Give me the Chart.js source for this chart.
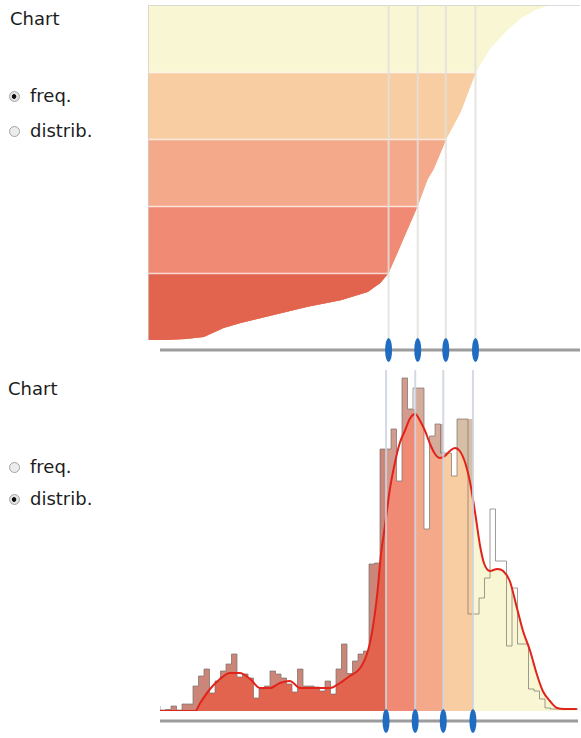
<!DOCTYPE html>
<html>
<head>
<meta charset="utf-8">
<script src="https://cdn.jsdelivr.net/npm/chart.js@4.4.1/dist/chart.umd.min.js"></script>
<style>
  html, body { margin: 0; padding: 0; background: #fff; }
  body { width: 581px; height: 738px; position: relative; overflow: hidden;
         font-family: "DejaVu Sans", sans-serif; color: #1c1c1c; }
  canvas { position: absolute; left: 0; }
  #topChart { top: 0; }
  #bottomChart { top: 370px; }
  .lbl { position: absolute; font-size: 18px; line-height: 18px; white-space: nowrap; }
  .opt { position: absolute; left: 9px; font-size: 18px; line-height: 18px;
         display: flex; align-items: center; white-space: nowrap; }
  .opt input { appearance: none; -webkit-appearance: none; width: 11px; height: 11px;
               margin: 0 10px 0 0; border-radius: 50%; border: 1px solid #a4a4a4;
               background: #ececec; }
  .opt input:checked { background: radial-gradient(circle at 45% 50%, #111 0 2px, #e2e2e2 2.6px); }
</style>
</head>
<body>
<div class="lbl" style="left:10px; top:10px">Chart</div>
<label class="opt" style="top:87px"><input type="radio" name="v1" checked>freq.</label>
<label class="opt" style="top:122px"><input type="radio" name="v1">distrib.</label>

<div class="lbl" style="left:8px; top:380px">Chart</div>
<label class="opt" style="top:458px"><input type="radio" name="v2">freq.</label>
<label class="opt" style="top:490px"><input type="radio" name="v2" checked>distrib.</label>

<canvas id="topChart" width="581" height="370"></canvas>
<canvas id="bottomChart" width="581" height="368"></canvas>

<script>
// histogram, one count per bin (bin k covers [k, k+1))
const histCounts = [
  1, 0.2, 0.3, 1, 0.2, 1.4, 1.4, 5, 7, 8.4,
  3.6, 6, 8, 9.4, 11.4, 6.8, 7.4, 6.6, 2.6, 4.4,
  5, 8, 7.4, 6.6, 5.4, 3.8, 8.4, 5, 5, 4.8,
  4, 6, 3.4, 8.4, 13.4, 7.5, 10, 11.4, 12, 29.4,
  29.6, 52.4, 52.4, 56.4, 46, 66.6, 60.4, 64.6, 64.6, 36.4,
  55, 57.4, 51.6, 51.6, 47, 58.4, 58.4, 19.4, 19.4, 22.6,
  26.6, 40.4, 30, 30, 13, 24.6, 13.4, 13.4, 4.4, 4,
  2.4, 0.6, 0.4, 0.4, 0.4, 0.4
]

// smoothed density (red curve)
const smoothX = [0, 6.4, 7.3, 9.1, 10.9, 12.7, 14.5, 16.4, 18.2, 20,
  21.8, 23.6, 25.5, 27.3, 29.1, 30.9, 32.7, 34.5, 36.4, 37.8,
  38.5, 39.5, 40.2, 40.9, 41.8, 42.7, 43.6, 44.5, 45.5, 46.4,
  47.3, 48.2, 49.1, 50, 50.9, 51.8, 52.7, 53.6, 54.5, 55.5,
  56.4, 57.3, 58.2, 58.9, 60, 61.3, 62.4, 63.6, 64.9, 66,
  67.3, 68.5, 69.6, 70.9, 72.2, 73.6, 75.8]
const smoothY = [0, 0, 1.6, 4.4, 6.4, 7.6, 7.6, 6.4, 4.6, 4.6,
  5.6, 6, 4.6, 4.6, 4.6, 4.6, 5.6, 7, 8.6, 12,
  15.4, 23.4, 31.6, 37, 44.4, 49.6, 53.6, 56, 58.6, 59.4,
  58, 56, 53.4, 51.4, 50.6, 51, 52, 52.6, 52, 49.6,
  45.6, 39.6, 33, 29.6, 28, 28.4, 28, 26, 20.6, 16,
  12, 7.4, 4, 2, 0.6, 0.4, 0.4]

// cumulative share (top view)
const cdfX = [-2.64, 0.5, 4.2, 7.5, 11.1, 14.2, 20.2, 26.4, 32.4, 37.3, 39.6, 41.1,
  42.7, 44.5, 46.4, 48.2, 49.3, 51.6, 54.2, 57, 59.6, 62.4, 65.1, 67.8, 70.4, 75.9]
const cdfY = [0, 0, 0.003, 0.009, 0.036, 0.051, 0.075, 0.099, 0.119, 0.143, 0.17, 0.2,
  0.26, 0.328, 0.4, 0.48, 0.51, 0.6, 0.68, 0.8, 0.87, 0.92, 0.96, 0.985, 1, 1]

// 20/40/60/80 % cut points
const quantiles = [41.1, 46.4, 51.5, 56.9]
const bandLevels = [0.2, 0.4, 0.6, 0.8, 1]
const bandColors = ["#e2644e", "#f08a74", "#f5a98b", "#f8cda1", "#f9f6d3"]

const toPts = (xs, ys) => xs.map((x, i) => ({ x, y: ys[i] }))

// frame, axis line, quantile guides and the blue handles
const guides = {
  id: "guides",
  afterDatasetsDraw(chart, args, opts) {
    const { ctx, chartArea: area, scales: { x, y } } = chart
    const axisY = area.bottom + opts.axisGap
    ctx.save()
    if (opts.bandLines) {
      ctx.strokeStyle = "rgba(255,255,255,0.75)"
      ctx.lineWidth = 1.5
      opts.bandLines.forEach((v) => {
        const py = Math.round(y.getPixelForValue(v)) + 0.5
        ctx.beginPath(); ctx.moveTo(area.left, py); ctx.lineTo(area.right, py); ctx.stroke()
      })
      ctx.strokeStyle = "rgba(205,205,205,0.7)"
      ctx.lineWidth = 1
      ctx.beginPath()
      ctx.moveTo(area.left + 0.5, area.bottom)
      ctx.lineTo(area.left + 0.5, area.top + 0.5)
      ctx.lineTo(area.right, area.top + 0.5)
      ctx.stroke()
    }
    ctx.strokeStyle = opts.guideColor
    ctx.lineWidth = 2
    quantiles.forEach((q) => {
      const px = x.getPixelForValue(q)
      ctx.beginPath(); ctx.moveTo(px, opts.guideTop); ctx.lineTo(px, axisY); ctx.stroke()
    })
    ctx.strokeStyle = "#9c9c9c"
    ctx.lineWidth = 3
    ctx.beginPath()
    ctx.moveTo(x.getPixelForValue(opts.axisFrom), axisY)
    ctx.lineTo(area.right, axisY)
    ctx.stroke()
    ctx.fillStyle = "#1f6cc1"
    quantiles.forEach((q) => {
      ctx.beginPath()
      ctx.ellipse(x.getPixelForValue(q), axisY, 3.5, 12, 0, 0, Math.PI * 2)
      ctx.fill()
    })
    ctx.restore()
  }
}

const baseOptions = (xMin, xMax, yMax, padding, guideOpts) => ({
  responsive: false,
  animation: false,
  events: [],
  layout: { padding },
  elements: { point: { radius: 0 } },
  scales: {
    x: { type: "linear", min: xMin, max: xMax, display: false },
    y: { min: 0, max: yMax, display: false }
  },
  plugins: { legend: { display: false }, tooltip: { enabled: false }, guides: guideOpts }
})

// ---- top: cumulative view, bands painted from the top one down
const cdfPts = toPts(cdfX, cdfY)
const bandSets = bandLevels.map((level, i) => ({
  data: cdfPts,
  borderWidth: 0,
  order: i,
  fill: { target: { value: level }, above: "rgba(0,0,0,0)", below: bandColors[i] }
}))

new Chart(document.getElementById("topChart"), {
  type: "line",
  data: { datasets: bandSets },
  options: baseOptions(-2.64, 75.9, 1, { left: 148, right: 1, top: 5, bottom: 30 },
    { axisGap: 10, axisFrom: -0.45, guideTop: 5, guideColor: "rgba(226,224,220,0.85)",
      bandLines: [0.2, 0.4, 0.6, 0.8] }),
  plugins: [guides]
})

// ---- bottom: histogram coloured by quantile range
const regionPts = (lo, hi) => {
  const pts = [{ x: lo, y: histCounts[Math.floor(lo)] }]
  for (let k = Math.floor(lo) + 1; k < hi; k++) pts.push({ x: k, y: histCounts[k] })
  pts.push({ x: hi, y: histCounts[Math.min(Math.floor(hi), histCounts.length - 1)] })
  return pts
}
const edges = [0, ...quantiles]
const regionSets = quantiles.map((hi, r) => ({
  data: regionPts(edges[r], hi),
  stepped: "after",
  borderWidth: 0,
  fill: "origin",
  backgroundColor: bandColors[r],
  order: 9 - r
}))
// greyed part of each bar that sticks out above the smooth curve
const excessSets = quantiles.map((hi, r) => ({
  data: regionPts(edges[r], hi),
  stepped: "after",
  borderWidth: 0,
  fill: { target: 0, above: "rgba(176,176,176,0.45)", below: "rgba(0,0,0,0)" },
  order: 4
}))

const smoothPts = toPts(smoothX, smoothY)
const outlinePts = histCounts.map((v, k) => ({ x: k, y: v }))
outlinePts.push({ x: histCounts.length, y: histCounts[histCounts.length - 1] })

new Chart(document.getElementById("bottomChart"), {
  type: "line",
  data: {
    datasets: [
      { data: smoothPts, borderColor: "#e0231b", borderWidth: 2, cubicInterpolationMode: "monotone", fill: false, order: 1 },
      { data: outlinePts, stepped: "after", borderColor: "rgba(120,114,108,0.7)", borderWidth: 1, fill: false, order: 2 },
      ...regionSets,
      { data: smoothPts.filter((p) => p.x >= 56), borderWidth: 0, fill: "origin",
        backgroundColor: bandColors[4], cubicInterpolationMode: "monotone", order: 10 },
      ...excessSets
    ]
  },
  options: baseOptions(0, 76, 67, { left: 160, right: 3, top: 6, bottom: 27 },
    { axisGap: 10, axisFrom: 0, guideTop: 0, guideColor: "rgba(205,210,222,0.85)" }),
  plugins: [guides]
})
</script>
</body>
</html>
